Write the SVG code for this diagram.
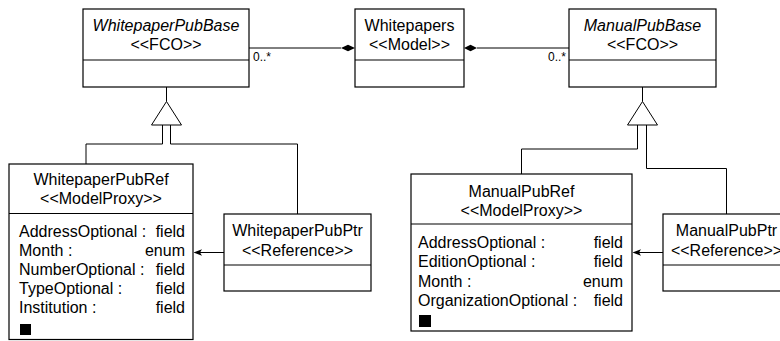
<svg xmlns="http://www.w3.org/2000/svg" width="780" height="341" viewBox="0 0 780 341">
  <style>
    .box { fill: #fff; stroke: #000; stroke-width: 1.2; }
    .sep { stroke: #000; stroke-width: 1.2; }
    .ln { fill: none; stroke: #000; stroke-width: 1; }
    .head { fill: #000; }
    text { font-family: "Liberation Sans", Arial, sans-serif; font-size: 16px; fill: #000; }
    .t { text-anchor: middle; }
    .it { font-style: italic; }
    .r { text-anchor: end; }
    .m { font-size: 12px; }
  </style>

  <!-- connectors -->
  <g id="connectors">
    <!-- compositions into the model -->
    <line class="ln" x1="249" y1="48" x2="341" y2="48"/>
    <polygon class="head" points="341,48 348,44.8 355,48 348,51.2"/>
    <line class="ln" x1="477" y1="48" x2="569" y2="48"/>
    <polygon class="head" points="464,48 470.5,44.8 477,48 470.5,51.2"/>
    <text class="m" x="253" y="61">0..*</text>
    <text class="m r" x="566" y="61">0..*</text>

    <!-- left generalization -->
    <line class="ln" x1="166.5" y1="87" x2="166.5" y2="101.5"/>
    <polygon points="166.5,101.5 151.5,125 181.5,125" fill="#fff" stroke="#000" stroke-width="1"/>
    <polyline class="ln" points="162.5,125 162.5,144 86,144 86,164"/>
    <polyline class="ln" points="170.5,125 170.5,144 297.5,144 297.5,214"/>

    <!-- right generalization -->
    <line class="ln" x1="642.5" y1="87" x2="642.5" y2="101.5"/>
    <polygon points="642.5,101.5 627.5,125 657.5,125" fill="#fff" stroke="#000" stroke-width="1"/>
    <polyline class="ln" points="637.5,125 637.5,149 521.5,149 521.5,174"/>
    <polyline class="ln" points="646.5,125 646.5,168.5 726.5,168.5 726.5,214"/>

    <!-- references -->
    <line class="ln" x1="224" y1="252.5" x2="196" y2="252.5"/>
    <polygon class="head" points="193.5,252.5 202,249.3 200,252.5 202,255.7"/>
    <line class="ln" x1="663" y1="252.5" x2="635" y2="252.5"/>
    <polygon class="head" points="632.5,252.5 641,249.3 639,252.5 641,255.7"/>
  </g>

  <g id="WhitepaperPubBase">
    <rect class="box" x="83" y="9" width="166" height="78"/>
    <line class="sep" x1="83" y1="60" x2="249" y2="60"/>
    <text class="t it" x="166" y="31">WhitepaperPubBase</text>
    <text class="t" x="166" y="50">&lt;&lt;FCO&gt;&gt;</text>
  </g>

  <g id="Whitepapers">
    <rect class="box" x="355" y="9" width="109" height="78"/>
    <line class="sep" x1="355" y1="60" x2="464" y2="60"/>
    <text class="t" x="409.5" y="31">Whitepapers</text>
    <text class="t" x="409.5" y="50">&lt;&lt;Model&gt;&gt;</text>
  </g>

  <g id="ManualPubBase">
    <rect class="box" x="569" y="9" width="147" height="78"/>
    <line class="sep" x1="569" y1="60" x2="716" y2="60"/>
    <text class="t it" x="642.5" y="31">ManualPubBase</text>
    <text class="t" x="642.5" y="50">&lt;&lt;FCO&gt;&gt;</text>
  </g>

  <g id="WhitepaperPubRef">
    <rect class="box" x="9" y="164" width="184" height="175.5"/>
    <line class="sep" x1="9" y1="213.5" x2="193" y2="213.5"/>
    <text class="t" x="101" y="185">WhitepaperPubRef</text>
    <text class="t" x="101" y="203.5">&lt;&lt;ModelProxy&gt;&gt;</text>
    <text x="19" y="236.5">AddressOptional :</text><text class="r" x="185" y="236.5">field</text>
    <text x="19" y="255.5">Month :</text><text class="r" x="185" y="255.5">enum</text>
    <text x="19" y="274.5">NumberOptional :</text><text class="r" x="185" y="274.5">field</text>
    <text x="19" y="293.5">TypeOptional :</text><text class="r" x="185" y="293.5">field</text>
    <text x="19" y="312.5">Institution :</text><text class="r" x="185" y="312.5">field</text>
    <rect x="20" y="324" width="11" height="11" fill="#000"/>
  </g>

  <g id="WhitepaperPubPtr">
    <rect class="box" x="224" y="214" width="147" height="77"/>
    <line class="sep" x1="224" y1="265" x2="371" y2="265"/>
    <text class="t" x="297.5" y="235.5">WhitepaperPubPtr</text>
    <text class="t" x="297.5" y="255.5">&lt;&lt;Reference&gt;&gt;</text>
  </g>

  <g id="ManualPubRef">
    <rect class="box" x="411" y="174" width="221" height="157"/>
    <line class="sep" x1="411" y1="224" x2="632" y2="224"/>
    <text class="t" x="521.5" y="197">ManualPubRef</text>
    <text class="t" x="521.5" y="216">&lt;&lt;ModelProxy&gt;&gt;</text>
    <text x="418" y="248">AddressOptional :</text><text class="r" x="623" y="248">field</text>
    <text x="418" y="267.3">EditionOptional :</text><text class="r" x="623" y="267.3">field</text>
    <text x="418" y="286.6">Month :</text><text class="r" x="623" y="286.6">enum</text>
    <text x="418" y="306">OrganizationOptional :</text><text class="r" x="623" y="306">field</text>
    <rect x="419" y="315" width="12" height="12" fill="#000"/>
  </g>

  <g id="ManualPubPtr">
    <rect class="box" x="663" y="214" width="128" height="77"/>
    <line class="sep" x1="663" y1="265" x2="791" y2="265"/>
    <text class="t" x="726.5" y="235.5">ManualPubPtr</text>
    <text class="t" x="726.5" y="255.5">&lt;&lt;Reference&gt;&gt;</text>
  </g>
</svg>
